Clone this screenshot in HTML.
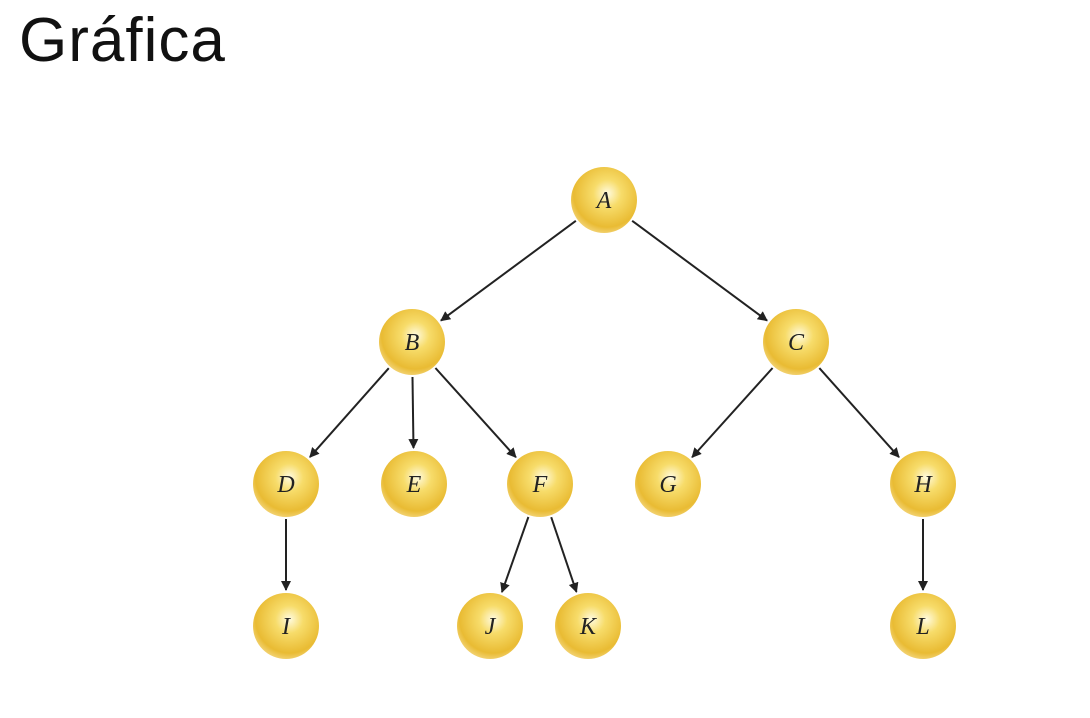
<!DOCTYPE html>
<html><head><meta charset="utf-8"><style>
body{margin:0;width:1090px;height:718px;background:#fff;overflow:hidden;font-family:"Liberation Sans",sans-serif}
#title{position:absolute;left:19px;top:10px;font-size:62px;line-height:1;letter-spacing:1px;color:#111}
svg{position:absolute;left:0;top:0}
</style></head><body>
<div id="title">Gráfica</div>
<svg id="g" width="1090" height="718">
<defs>
<radialGradient id="ball" cx="0.55" cy="0.4" r="0.6">
<stop offset="0" stop-color="#fffbe0"/><stop offset="0.35" stop-color="#f7dc6a"/><stop offset="0.85" stop-color="#e9bb33"/><stop offset="1" stop-color="#f1cf6a"/>
</radialGradient>
<marker id="arr" viewBox="0 0 10 10" refX="9" refY="5" markerWidth="10" markerHeight="10" orient="auto" markerUnits="userSpaceOnUse"><path d="M0,0 L10,5 L0,10 z" fill="#222"/></marker>
</defs>
</svg>
<script>
const nodeNames=["A","B","C","D","E","F","G","H","I","J","K","L"];
const nodeX=[604,412,796,286,414,540,668,923,286,490,588,923];
const nodeLevel=[0,1,1,2,2,2,2,2,3,3,3,3];
const edges=[["A","B"],["A","C"],["B","D"],["B","E"],["B","F"],["C","G"],["C","H"],["D","I"],["F","J"],["F","K"],["H","L"]];
const R=33;
const ly=l=>200+l*142;
const svg=document.getElementById('g');
const NS='http://www.w3.org/2000/svg';
const pos={};
nodeNames.forEach((n,i)=>pos[n]=[nodeX[i],ly(nodeLevel[i])]);
edges.forEach(([a,b])=>{
const [x1,y1]=pos[a],[x2,y2]=pos[b];
const dx=x2-x1,dy=y2-y1,d=Math.hypot(dx,dy),ux=dx/d,uy=dy/d;
const l=document.createElementNS(NS,'line');
l.setAttribute('x1',x1+ux*(R+2));l.setAttribute('y1',y1+uy*(R+2));
l.setAttribute('x2',x2-ux*(R+3));l.setAttribute('y2',y2-uy*(R+3));
l.setAttribute('stroke','#222');l.setAttribute('stroke-width','2');
l.setAttribute('marker-end','url(#arr)');


svg.appendChild(l);
});
nodeNames.forEach(n=>{
const [x,y]=pos[n];
const c=document.createElementNS(NS,'circle');
c.setAttribute('cx',x);c.setAttribute('cy',y);c.setAttribute('r',R);c.setAttribute('fill','url(#ball)');


svg.appendChild(c);
const t=document.createElementNS(NS,'text');
t.setAttribute('x',x);t.setAttribute('y',y+8);t.setAttribute('text-anchor','middle');
t.setAttribute('font-family','Liberation Serif, serif');t.setAttribute('font-style','italic');t.setAttribute('font-size','24');t.setAttribute('fill','#222');
t.textContent=n;


svg.appendChild(t);
});
</script>
</body></html>
